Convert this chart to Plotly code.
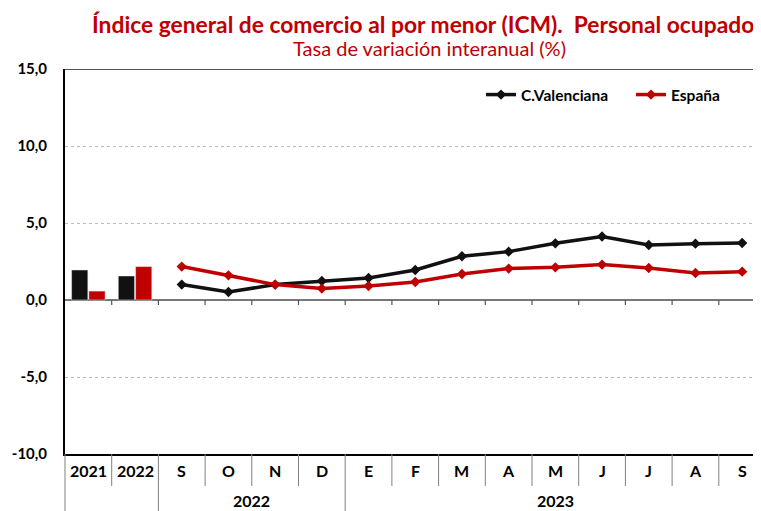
import plotly.graph_objects as go

# ---- data ----
cats = ["2021", "2022", "S", "O", "N", "D", "E", "F", "M", "A", "M", "J", "J", "A", "S"]
group_labels = ["2022", "2023"]
group_spans = [(2, 5), (6, 14)]          # index spans of the month groups
bar_years = ["2021", "2022"]
bar_cv = [1.95, 1.56]
bar_es = [0.58, 2.17]
line_cv = [1.00, 0.52, 1.00, 1.23, 1.43, 1.95, 2.84, 3.14, 3.68, 4.12, 3.57, 3.66, 3.70]
line_es = [2.17, 1.60, 1.00, 0.74, 0.91, 1.17, 1.69, 2.04, 2.12, 2.30, 2.08, 1.75, 1.84]
ytickvals = [-10, -5, 0, 5, 10, 15]
yticktext = ["-10,0", "-5,0", "0,0", "5,0", "10,0", "15,0"]

BLACK = "#111111"
RED = "#C00000"
FONT = "Lato"

OFF = 8                      # browser body margin
W, H = 761 - OFF, 511 - OFF
ML, MR, MT, MB = 65 - OFF, 0, 69 - OFF, 57
plot_w = W - ML - MR
plot_h = H - MT - MB
cat_px = 46.7
x0 = -0.5
x1 = x0 + plot_w / cat_px

def xp(v):
    return (v - x0) / (x1 - x0)

def yp_px(px_below):
    return -px_below / plot_h

def px_x(page_x):            # page pixel -> paper x
    return (page_x - 65) / plot_w

def px_y(page_y):            # page pixel -> paper y
    return 1 - (page_y - 69) / plot_h

bar_x = list(range(len(bar_years)))
line_x = list(range(len(bar_years), len(cats)))

fig = go.Figure()
fig.add_bar(x=bar_x, y=bar_cv, marker_color=BLACK, showlegend=False, name="C.Valenciana")
fig.add_bar(x=bar_x, y=bar_es, marker_color=RED, showlegend=False, name="España")
fig.add_scatter(x=line_x, y=line_cv, mode="lines+markers", name="C.Valenciana",
                legend="legend",
                line=dict(color=BLACK, width=3.5),
                marker=dict(symbol="diamond", size=8, color=BLACK))
fig.add_scatter(x=line_x, y=line_es, mode="lines+markers", name="España",
                legend="legend2",
                line=dict(color=RED, width=3.5),
                marker=dict(symbol="diamond", size=8, color=RED))

shapes = []
# top border
shapes.append(dict(type="line", xref="paper", yref="y", x0=0, x1=1, y0=15, y1=15,
                   line=dict(color="#555555", width=2)))
# tick marks on zero line
for k in range(1, len(cats)):
    shapes.append(dict(type="line", xref="x", yref="y", x0=k - 0.5, x1=k - 0.5,
                       y0=0, y1=-0.33, line=dict(color="#555555", width=1.2)))
# category dividers below the axis
long_bounds = [1.5] + [s[1] + 0.5 for s in group_spans[:-1]]
for k in range(1, len(cats)):
    b = k - 0.5
    if b > x1:
        continue
    depth = 57 if b in long_bounds else 32
    shapes.append(dict(type="line", xref="paper", yref="paper", x0=xp(b), x1=xp(b),
                       y0=0, y1=yp_px(depth), line=dict(color="#808080", width=1)))
# left axis extension
shapes.append(dict(type="line", xref="paper", yref="paper", x0=0, x1=0,
                   y0=0, y1=yp_px(57), line=dict(color="#808080", width=1)))

annotations = []
for i, c in enumerate(cats):
    annotations.append(dict(x=i, y=yp_px(16), xref="x", yref="paper", text=c, showarrow=False,
                            font=dict(family=FONT, size=16, color="black", weight="bold"),
                            xanchor="center", yanchor="middle"))
for lab, (a, b) in zip(group_labels, group_spans):
    annotations.append(dict(x=(a + b) / 2, y=yp_px(46), xref="x", yref="paper", text=lab,
                            showarrow=False,
                            font=dict(family=FONT, size=16, color="black", weight="bold"),
                            xanchor="center", yanchor="middle"))
annotations.append(dict(x=px_x(423), y=px_y(24), xref="paper", yref="paper",
                        text="Índice general de comercio al por menor (ICM).  Personal ocupado",
                        showarrow=False, xanchor="center", yanchor="middle",
                        font=dict(family=FONT, size=22.8, color=RED, weight="bold")))
annotations.append(dict(x=px_x(429), y=px_y(48), xref="paper", yref="paper",
                        text="Tasa de variación interanual (%)",
                        showarrow=False, xanchor="center", yanchor="middle",
                        font=dict(family=FONT, size=20, color=RED)))

legend_font = dict(family=FONT, size=15.5, color="black", weight="bold")
fig.update_layout(
    width=W, height=H,
    margin=dict(l=ML, r=MR, t=MT, b=MB),
    paper_bgcolor="white", plot_bgcolor="white",
    barmode="group", bargap=0.26, bargroupgap=0.06,
    font=dict(family=FONT),
    showlegend=True,
    legend=dict(orientation="h", x=px_x(481), y=px_y(95),
                xanchor="left", yanchor="middle", bgcolor="rgba(0,0,0,0)",
                font=legend_font),
    legend2=dict(orientation="h", x=px_x(631), y=px_y(95),
                 xanchor="left", yanchor="middle", bgcolor="rgba(0,0,0,0)",
                 font=legend_font),
    shapes=shapes, annotations=annotations,
)
fig.update_xaxes(range=[x0, x1], showticklabels=False, showgrid=False, zeroline=False,
                 showline=True, linecolor="black", linewidth=2, ticks="", fixedrange=True)
fig.update_yaxes(range=[-10, 15], tickvals=ytickvals, ticktext=yticktext,
                 tickfont=dict(family=FONT, size=15, color="black", weight="bold"),
                 showgrid=True, gridcolor="#BBBBBB", griddash="dot", gridwidth=1,
                 zeroline=True, zerolinecolor="#777777", zerolinewidth=1.5,
                 showline=True, linecolor="black", linewidth=2, ticks="",
                 ticklabelstandoff=13)

fig.write_html("out.html")
